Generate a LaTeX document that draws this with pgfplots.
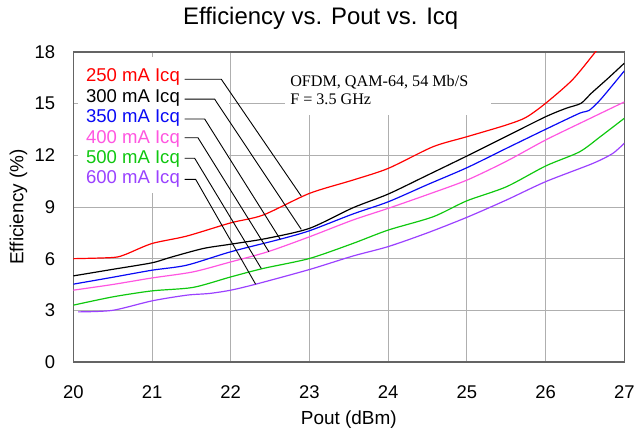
\documentclass[border=0pt]{standalone}
\usepackage{fontspec}
\setmainfont{Liberation Sans}
\newfontfamily\timesfont{Liberation Serif}
\usepackage{pgfplots}
\pgfplotsset{compat=1.18}
\definecolor{cred}{RGB}{255,0,0}
\definecolor{cblue}{RGB}{10,10,245}
\definecolor{cpink}{RGB}{255,85,225}
\definecolor{cgreen}{RGB}{15,200,15}
\definecolor{cpurple}{RGB}{155,65,255}
\definecolor{gridgray}{RGB}{175,175,175}
\definecolor{framegray}{RGB}{100,100,100}
\begin{document}
\begin{tikzpicture}
\begin{axis}[
  scale only axis,
  width=551bp, height=310bp,
  xmin=20, xmax=27, ymin=0, ymax=18,
  xtick={20,21,...,27}, ytick={0,3,...,18},
  grid=major,
  major grid style={color=gridgray, line width=0.8bp},
  axis line style={color=framegray, line width=1.3bp},
  major tick length=0pt,
  /pgf/number format/assume math mode=true,
  tick label style={font=\fontsize{18.5}{22}\selectfont, inner sep=0pt},
  yticklabel style={anchor=east, xshift=-18bp},
  xticklabel style={anchor=north, yshift=-23bp},
  title={Efficiency vs. Pout vs. Icq},
  title style={at={(axis description cs:0.449,1.0687)}, anchor=base, inner sep=0pt, font=\fontsize{24}{28}\selectfont},
  xlabel={Pout (dBm)},
  xlabel style={at={(axis description cs:0.5,-0.2032)}, anchor=base, inner sep=0pt, font=\fontsize{19}{22}\selectfont},
  ylabel={Efficiency (\%)},
  ylabel style={at={(axis description cs:-0.0907,0.5)}, anchor=base, inner sep=0pt, font=\fontsize{19}{22}\selectfont},
  every axis plot/.append style={line width=1.2bp, smooth, tension=0.45, no markers},
]
\fill[white] (axis cs:20.06,9.81) rectangle (axis cs:21.98,17.71);
\fill[white] (axis cs:22.69,14.34) rectangle (axis cs:25.31,17.94);

\addplot[cred] coordinates {(20,6.0)(20.51,6.07)(20.67,6.26)(21.0,6.88)(21.44,7.31)(22.0,8.08)(22.41,8.53)(23.0,9.79)(23.55,10.56)(24.0,11.24)(24.57,12.5)(25.0,13.08)(25.5,13.76)(25.75,14.2)(26.0,15.02)(26.34,16.38)(26.62,17.93)(26.7,18.4)};
\addplot[black] coordinates {(20,5.0)(20.5,5.38)(21.0,5.76)(21.23,6.07)(21.65,6.59)(22.0,6.84)(22.45,7.17)(23.0,7.76)(23.55,8.95)(24.0,9.75)(24.5,10.85)(25.0,11.96)(25.5,13.1)(26.0,14.24)(26.26,14.73)(26.45,15.02)(26.58,15.6)(26.8,16.5)(27,17.35)};
\addplot[cblue] coordinates {(20,4.52)(20.5,4.92)(21.0,5.33)(21.44,5.62)(22.0,6.4)(22.62,7.12)(23.0,7.62)(23.55,8.59)(24.0,9.3)(24.5,10.3)(25.0,11.28)(25.5,12.4)(26.0,13.51)(26.43,14.44)(26.55,14.6)(26.7,15.25)(27,16.9)};
\addplot[cpink] coordinates {(20,4.17)(20.5,4.5)(21.0,4.88)(21.52,5.23)(22.0,5.81)(22.47,6.4)(23.0,7.27)(23.55,8.24)(24.0,8.92)(24.5,9.72)(25.0,10.56)(25.5,11.65)(26.0,12.89)(26.5,14.0)(27,15.1)};
\addplot[cgreen] coordinates {(20,3.3)(20.5,3.78)(21.0,4.13)(21.52,4.33)(22.0,4.94)(22.41,5.43)(23.0,6.01)(23.55,6.88)(24.0,7.66)(24.57,8.43)(25.0,9.36)(25.5,10.17)(26.0,11.38)(26.43,12.2)(26.7,13.1)(27,14.15)};
\addplot[cpurple] coordinates {(20.06,2.91)(20.5,3.0)(21.0,3.55)(21.44,3.88)(21.73,3.98)(22.0,4.17)(22.32,4.52)(23.0,5.37)(23.55,6.15)(24.0,6.7)(24.5,7.5)(25.0,8.4)(25.5,9.4)(26.0,10.47)(26.6,11.53)(26.85,12.1)(27,12.7)};

\begin{scope}[every node/.style={anchor=base east, inner sep=0pt, font=\fontsize{18.6}{22}\selectfont}]
\node[text=cred] at (axis cs:21.356,16.28) {250 mA Icq};
\node[text=black] at (axis cs:21.356,15.06) {300 mA Icq};
\node[text=cblue] at (axis cs:21.356,13.90) {350 mA Icq};
\node[text=cpink] at (axis cs:21.356,12.70) {400 mA Icq};
\node[text=cgreen] at (axis cs:21.356,11.53) {500 mA Icq};
\node[text=cpurple] at (axis cs:21.356,10.37) {600 mA Icq};
\end{scope}
\begin{scope}[line width=0.9bp, black]
\draw (axis cs:21.415,16.42) -- (axis cs:21.88,16.42) -- (axis cs:22.896,9.63);
\draw (axis cs:21.415,15.26) -- (axis cs:21.796,15.26) -- (axis cs:22.896,7.70);
\draw (axis cs:21.415,14.11) -- (axis cs:21.669,14.11) -- (axis cs:22.63,7.12);
\draw (axis cs:21.415,13.02) -- (axis cs:21.584,13.02) -- (axis cs:22.485,6.40);
\draw (axis cs:21.415,11.83) -- (axis cs:21.542,11.83) -- (axis cs:22.388,5.43);
\draw (axis cs:21.415,10.60) -- (axis cs:21.555,10.60) -- (axis cs:22.316,4.52);
\end{scope}
\node[anchor=base west, inner sep=0pt, font=\timesfont\fontsize{16.2}{19}\selectfont] at (axis cs:22.754,15.99) {OFDM, QAM-64, 54 Mb/S};
\node[anchor=base west, inner sep=0pt, font=\timesfont\fontsize{16.2}{19}\selectfont] at (axis cs:22.754,14.98) {F = 3.5 GHz};
\end{axis}
\pgfresetboundingbox
\path[use as bounding box] (-73.3bp,-68bp) rectangle (563.7bp,362bp);
\end{tikzpicture}
\end{document}
